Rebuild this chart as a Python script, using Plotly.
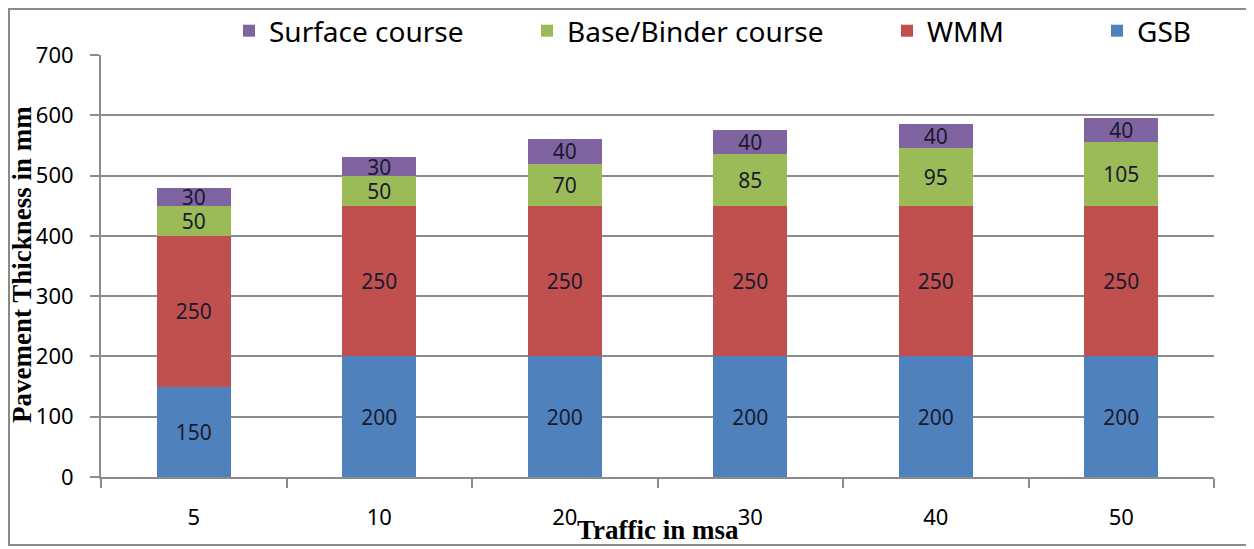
import plotly.graph_objects as go

# Data
traffic = ["5", "10", "20", "30", "40", "50"]
gsb = [150, 200, 200, 200, 200, 200]
wmm = [250, 250, 250, 250, 250, 250]
base_binder = [50, 50, 70, 85, 95, 105]
surface = [30, 30, 40, 40, 40, 40]

BLUE = "#4F81BD"
RED = "#C0504D"
GREEN = "#9BBB59"
PURPLE = "#8064A2"
GRID = "#8c8c8c"
LABEL_FONT = "Noto Sans"

# page has an 8px body margin, so the figure is drawn slightly smaller
OFF = 8
W, H = 1254 - OFF, 549 - OFF
ML, MR, MT, MB = 101 - OFF, 40, 55 - OFF, 72
PW, PH = W - ML - MR, H - MT - MB


def px_x(page_px):
    return (page_px - OFF - ML) / PW


def px_y(page_py):
    return (H - MB - (page_py - OFF)) / PH


series = [
    ("GSB", gsb, BLUE, "legend4", 1097),
    ("WMM", wmm, RED, "legend3", 887),
    ("Base/Binder course", base_binder, GREEN, "legend2", 527),
    ("Surface course", surface, PURPLE, "legend", 229),
]

fig = go.Figure()
legends = {}
for name, vals, color, leg, lx in series:
    fig.add_trace(
        go.Bar(
            x=traffic,
            y=vals,
            name=name,
            marker_color=color,
            marker_line_width=0,
            width=0.4,
            text=vals,
            texttemplate="%{text}",
            textposition="inside",
            insidetextanchor="middle",
            textangle=0,
            textfont=dict(family=LABEL_FONT, size=21, color="#1a1a2e"),
            legend=leg,
            showlegend=True,
        )
    )
    legends[leg] = dict(
        x=(lx - OFF) / W,
        y=1 - (31 - OFF) / H,
        xref="container",
        yref="container",
        xanchor="left",
        yanchor="middle",
        orientation="h",
        bgcolor="rgba(0,0,0,0)",
        font=dict(family=LABEL_FONT, size=28, color="black"),
        itemwidth=30,
    )

fig.update_layout(
    width=W,
    height=H,
    barmode="stack",
    showlegend=True,
    plot_bgcolor="white",
    paper_bgcolor="white",
    margin=dict(l=ML, r=MR, t=MT, b=MB, autoexpand=False),
    uniformtext=dict(minsize=21, mode="show"),
    **legends,
)

fig.update_xaxes(
    type="category",
    automargin=False,
    showline=True,
    linecolor=GRID,
    linewidth=2,
    ticks="outside",
    tickson="boundaries",
    ticklen=9,
    tickwidth=2,
    tickcolor=GRID,
    ticklabelstandoff=20,
    showgrid=False,
    tickfont=dict(family=LABEL_FONT, size=22, color="black"),
)
fig.update_yaxes(
    range=[0, 700],
    dtick=100,
    automargin=False,
    showline=True,
    linecolor=GRID,
    linewidth=2,
    ticks="outside",
    ticklen=9,
    tickwidth=2,
    tickcolor=GRID,
    ticklabelstandoff=12,
    showgrid=True,
    gridcolor=GRID,
    gridwidth=2,
    zeroline=False,
    tickfont=dict(family=LABEL_FONT, size=22, color="black"),
)

# axis titles as annotations so they sit where the reference has them
fig.add_annotation(
    text="<b>Pavement Thickness in mm</b>",
    xref="paper",
    yref="paper",
    x=px_x(22),
    y=px_y(265),
    textangle=-90,
    xanchor="center",
    yanchor="middle",
    showarrow=False,
    font=dict(family="Liberation Serif", size=27, color="black"),
)
fig.add_annotation(
    text="<b>Traffic in msa</b>",
    xref="paper",
    yref="paper",
    x=px_x(658),
    y=px_y(530),
    xanchor="center",
    yanchor="middle",
    showarrow=False,
    font=dict(family="Liberation Serif", size=27, color="black"),
)

# outer frame around the chart
fig.add_shape(
    type="rect",
    xref="paper",
    yref="paper",
    x0=px_x(OFF + 1),
    x1=px_x(1250),
    y0=px_y(545),
    y1=px_y(OFF + 1),
    line=dict(color="#8a8a8a", width=2),
    fillcolor="rgba(0,0,0,0)",
    layer="below",
)

fig.write_html("out.html")
